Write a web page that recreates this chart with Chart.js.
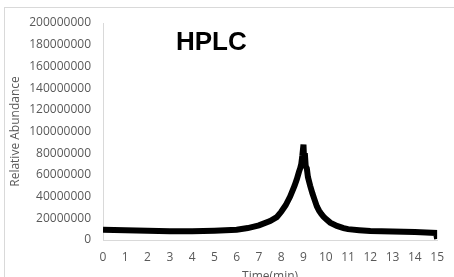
<!DOCTYPE html>
<html lang="en">
<head>
  <meta charset="UTF-8" />
  <title>HPLC</title>
  <script src="https://cdn.jsdelivr.net/npm/chart.js"></script>
  <style>
    body {
      margin: 0;
      background: #ffffff;
    }

    .chart-box {
      position: relative;
      width: 454px;
      height: 277px;
      overflow: hidden;
    }

    .label {
      position: absolute;
      left: 176px;
      top: 26px;
      font-family: 'Liberation Sans', Arial, sans-serif;
      font-size: 26px;
      font-weight: bold;
      color: #000;
    }
  </style>
</head>
<body>
  <div class="chart-box">
    <canvas id="hplcChart"></canvas>
    <div class="label">HPLC</div>
  </div>

  <script>
    // retention time (min) and intensity
    const times = [0, 0.5, 1, 1.5, 2, 2.5, 3, 3.5, 4, 4.5, 5, 5.5, 6, 6.5, 7, 7.5, 7.8, 8, 8.2, 8.4, 8.5,
      8.6, 8.7, 8.8, 8.85, 8.9, 8.95, 9.0, 9.03, 9.06, 9.1, 9.15, 9.2, 9.3, 9.4, 9.5, 9.6, 9.7,
      9.8, 9.9, 10, 10.2, 10.5, 10.8, 11, 11.5, 12, 12.5, 13, 13.5, 14, 14.5, 14.95, 15];
    const abundance = [9.5e6, 9.2e6, 9.0e6, 8.8e6, 8.5e6, 8.3e6, 8.0e6, 8.0e6, 8.0e6, 8.2e6, 8.5e6, 9.0e6, 9.5e6, 11e6, 13.5e6, 17.5e6, 21e6, 26e6, 32e6, 40e6, 45e6,
      50e6, 56e6, 63e6, 66e6, 70e6, 78e6, 88e6, 72e6, 80e6, 68e6, 66e6, 58e6, 50e6, 43e6, 37e6, 31e6, 27e6,
      24e6, 21.5e6, 19.5e6, 16e6, 13e6, 11e6, 10e6, 9e6, 8.2e6, 8e6, 7.8e6, 7.6e6, 7.3e6, 7e6, 6.5e6, 1e6];
    const xTicks = [0, 15, 1];
    const yTicks = [0, 200000000, 20000000];

    const frame = {
      id: 'frame',
      beforeDraw(chart) {
        const ctx = chart.ctx;
        ctx.save();
        ctx.strokeStyle = '#d9d9d9';
        ctx.lineWidth = 1;
        ctx.strokeRect(4.5, 7.5, 470, 290);
        ctx.restore();
      }
    };

    const tickFont = { family: "'Open Sans', sans-serif", size: 12 };

    new Chart(document.getElementById('hplcChart'), {
      type: 'line',
      data: {
        datasets: [{
          data: times.map((t, i) => ({ x: t, y: abundance[i] })),
          borderColor: '#000000',
          borderWidth: 6,
          pointRadius: 0,
          tension: 0,
          fill: false
        }]
      },
      options: {
        responsive: true,
        maintainAspectRatio: false,
        animation: false,
        layout: { padding: { left: 0, right: 12, top: 23, bottom: 0 } },
        plugins: { legend: { display: false }, tooltip: { enabled: false } },
        scales: {
          x: {
            type: 'linear',
            min: xTicks[0],
            max: xTicks[1],
            afterFit: s => { s.height = 37; },
            ticks: { stepSize: xTicks[2], color: '#595959', font: tickFont, padding: 10, maxRotation: 0 },
            grid: { display: false, drawTicks: false },
            border: { display: true, color: '#d9d9d9' },
            title: { display: true, text: 'Time(min)', color: '#595959', font: tickFont, padding: { top: 0, bottom: -7 } }
          },
          y: {
            min: yTicks[0],
            max: yTicks[1],
            afterFit: s => { s.width = 103; },
            ticks: { stepSize: yTicks[2], color: '#595959', font: tickFont, padding: 12, callback: v => String(v) },
            grid: { display: false, drawTicks: false },
            border: { display: true, color: '#d9d9d9' },
            title: { display: true, text: 'Relative Abundance', color: '#595959', font: tickFont, padding: { top: 8, bottom: 0 } }
          }
        }
      },
      plugins: [frame]
    });
  </script>
</body>
</html>
